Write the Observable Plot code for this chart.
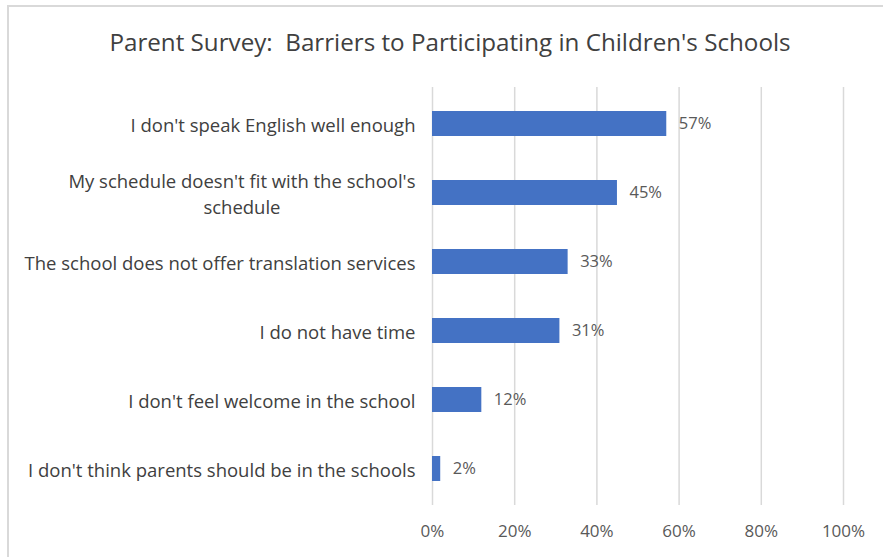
<!DOCTYPE html>
<html>
<head>
<meta charset="utf-8">
<script src="https://cdn.jsdelivr.net/npm/d3@7"></script>
<script src="https://cdn.jsdelivr.net/npm/@observablehq/plot@0.6"></script>
<style>
  html, body { margin: 0; padding: 0; background: #fff; }
  body { width: 883px; height: 557px; position: relative; overflow: hidden; font-family: "Open Sans", Lato, sans-serif; }
  #frame { position: absolute; left: 7px; top: 5px; width: 900px; height: 600px;
           border-left: 2px solid #d9d9d9; border-top: 2px solid #d9d9d9; box-sizing: border-box; }
  #title { position: absolute; left: 7px; width: 886px; top: 27px; text-align: center;
           font-size: 24.2px; color: #404040; white-space: pre; line-height: 30px; }
  #chart { position: absolute; left: 0; top: 0; }
</style>
</head>
<body>
<div id="frame"></div>
<div id="title">Parent Survey:  Barriers to Participating in Children's Schools</div>
<div id="chart"></div>
<script>
const categories = [
  "I don't speak English well enough",
  "My schedule doesn't fit with the school's\nschedule",
  "The school does not offer translation services",
  "I do not have time",
  "I don't feel welcome in the school",
  "I don't think parents should be in the schools"
];
const values = [0.57, 0.45, 0.33, 0.31, 0.12, 0.02];
const tickValues = [0, 0.2, 0.4, 0.6, 0.8, 1.0];

const data = categories.map((c, i) => ({category: c, value: values[i]}));
const pct = d3.format(".0%");

const chart = Plot.plot({
  width: 883,
  height: 557,
  marginLeft: 432,
  marginRight: 40,
  marginTop: 87,
  marginBottom: 52,
  style: {fontFamily: "'Open Sans', Lato, sans-serif", fontSize: "17px", color: "#404040", background: "transparent", overflow: "visible"},
  x: {domain: [0, 1]},
  y: {domain: categories, paddingInner: 0.64, paddingOuter: 0.32},
  marks: [
    Plot.gridX(tickValues, {stroke: "#d9d9d9", strokeOpacity: 1, strokeWidth: 1.5}),
    Plot.barX(data, {x: "value", y: "category", fill: "#4472C4"}),
    Plot.text(data, {x: "value", y: "category", text: d => pct(d.value), textAnchor: "start", dx: 12, fill: "#595959", fontSize: 16.5}),
    Plot.axisX({ticks: tickValues, tickFormat: pct, tickSize: 0, tickPadding: 19, label: null, fill: "#595959", fontSize: 17}),
    Plot.axisY({tickSize: 0, tickPadding: 17, label: null, lineHeight: 1.38, fill: "#404040", fontSize: 18.5})
  ]
});
document.getElementById("chart").appendChild(chart);

// Center multi-line category labels (as in the original spreadsheet chart)
chart.querySelectorAll("g[aria-label='y-axis tick label'] text").forEach(t => {
  const spans = t.querySelectorAll("tspan");
  if (spans.length > 1) {
    const w = Math.max(...Array.from(spans).map(s => s.getComputedTextLength()));
    t.setAttribute("text-anchor", "middle");
    spans.forEach(s => s.setAttribute("x", -w / 2));
  }
});
</script>
</body>
</html>
